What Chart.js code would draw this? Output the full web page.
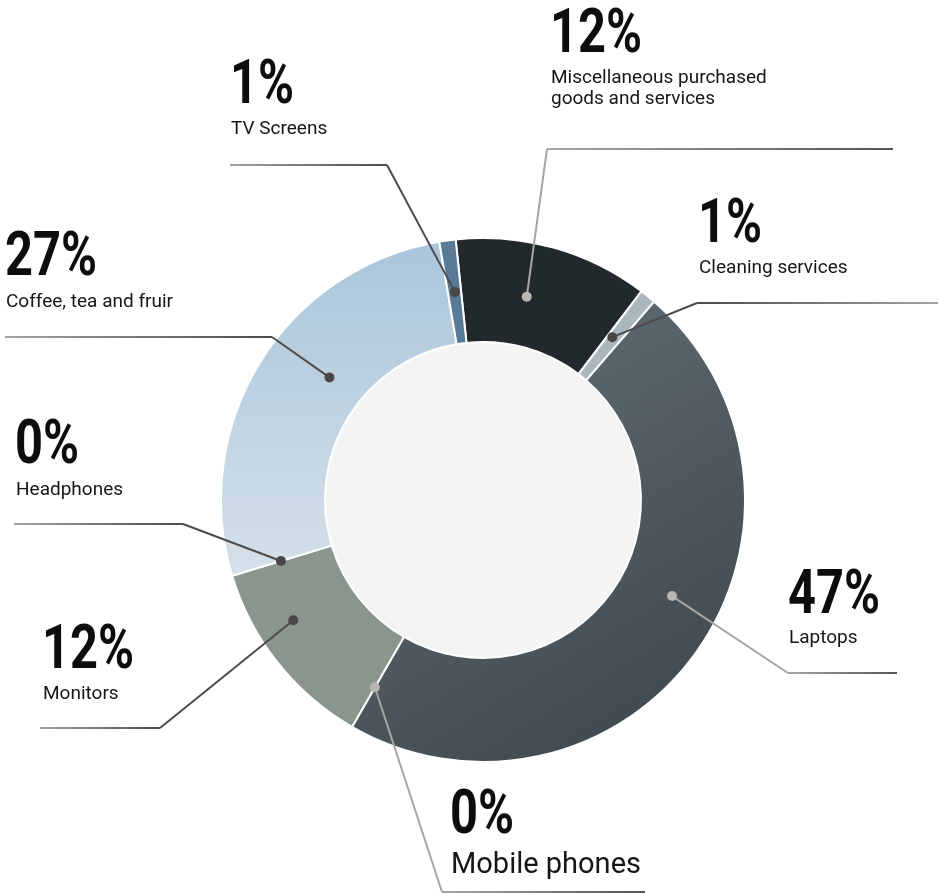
<!DOCTYPE html>
<html>
<head>
<meta charset="utf-8">
<script src="https://cdn.jsdelivr.net/npm/chart.js@4"></script>
<style>
  html, body { margin: 0; padding: 0; background: #ffffff; }
  #wrap { width: 938px; height: 894px; }
</style>
</head>
<body>
<div id="wrap"><canvas id="spendChart" width="938" height="894"></canvas></div>
<script>
// categories run clockwise starting just left of 12 o'clock
const categories = [
    ["Miscellaneous purchased", "goods and services"],
    "Cleaning services",
    "Laptops",
    "Mobile phones",
    "Monitors",
    "Headphones",
    "Coffee, tea and fruir",
    "TV Screens",
];
const shares = [12, 1, 47, 0, 12, 0, 27, 1];

const ctx = document.getElementById("spendChart").getContext("2d");

// gradients for the two big slices
const laptopFill = ctx.createLinearGradient(480, 300, 740, 730);
laptopFill.addColorStop(0, "#606d74");
laptopFill.addColorStop(1, "#3d474c");

const coffeeFill = ctx.createLinearGradient(0, 240, 0, 575);
coffeeFill.addColorStop(0, "#a9c5db");
coffeeFill.addColorStop(1, "#d4e0e9");

const sliceColors = ["#22292d", "#abb7bf", laptopFill, "#4d5a60", "#8a968b", "#8a968b", coffeeFill, "#587a96"];

// callout placement: text block, elbow of the leader line, end of the rule, dot spot inside the slice
const calloutLayout = [
    { textX: 550, pctY: 52,  labelY: 83,  elbow: [547, 149], endX: 893, tone: "light", t: 0.42, r: 0.48 },
    { textX: 698, pctY: 242, labelY: 273, elbow: [697, 303], endX: 938, tone: "dark",  t: 0.35, r: 0.48 },
    { textX: 788, pctY: 613, labelY: 643, elbow: [788, 673], endX: 897, tone: "light", t: 0.45, r: 0.52 },
    { textX: 450, pctY: 833, labelY: 873, elbow: [442, 892], endX: 645, tone: "light", t: 0.5,  r: 0.56, big: true },
    { textX: 42,  pctY: 668, labelY: 699, elbow: [160, 728], endX: 40,  tone: "dark",  t: 0.64, r: 0.64 },
    { textX: 15,  pctY: 463, labelY: 495, elbow: [183, 524], endX: 14,  tone: "dark",  t: 0.5,  r: 0.51 },
    { textX: 5,   pctY: 275, labelY: 307, elbow: [272, 337], endX: 5,   tone: "dark",  t: 0.57, r: 0.37 },
    { textX: 230, pctY: 103, labelY: 134, elbow: [387, 165], endX: 230, tone: "dark",  t: 0.53, r: 0.5 },
];

const tones = {
    light: { dot: "#b9b5ae", near: "#a9a6a1", far: "#555555" },
    dark:  { dot: "#4b4646", near: "#4f4b4b", far: "#a3a3a3" },
};

const innerDisc = {
    id: "innerDisc",
    beforeDatasetsDraw(chart) {
        const arc = chart.getDatasetMeta(0).data[0];
        const { x, y, innerRadius } = arc.getProps(["x", "y", "innerRadius"], true);
        const c = chart.ctx;
        c.save();
        c.fillStyle = "#f3f5f3";
        c.beginPath();
        c.arc(x, y, innerRadius, 0, Math.PI * 2);
        c.fill();
        c.restore();
    },
};

const callouts = {
    id: "callouts",
    afterDatasetsDraw(chart) {
        const c = chart.ctx;
        const arcs = chart.getDatasetMeta(0).data;
        const values = chart.data.datasets[0].data;

        arcs.forEach((arc, i) => {
            const lay = calloutLayout[i];
            const tone = tones[lay.tone];
            const p = arc.getProps(["x", "y", "startAngle", "endAngle", "innerRadius", "outerRadius"], true);
            const a = p.startAngle + lay.t * (p.endAngle - p.startAngle);
            const rr = p.innerRadius + lay.r * (p.outerRadius - p.innerRadius);
            const dx = p.x + Math.cos(a) * rr;
            const dy = p.y + Math.sin(a) * rr;
            const [ex, ey] = lay.elbow;

            c.save();
            c.lineWidth = 2;
            c.lineCap = "butt";

            // diagonal leg
            c.strokeStyle = tone.near;
            c.beginPath();
            c.moveTo(dx, dy);
            c.lineTo(ex, ey);
            c.stroke();

            // horizontal rule
            const g = c.createLinearGradient(ex, 0, lay.endX, 0);
            g.addColorStop(0, tone.near);
            g.addColorStop(1, tone.far);
            c.strokeStyle = g;
            c.beginPath();
            c.moveTo(ex, ey);
            c.lineTo(lay.endX, ey);
            c.stroke();

            // dot
            c.fillStyle = tone.dot;
            c.beginPath();
            c.arc(dx, dy, 5, 0, Math.PI * 2);
            c.fill();

            // percentage, condensed
            c.fillStyle = "#0d0d0d";
            c.textAlign = "left";
            c.textBaseline = "alphabetic";
            c.save();
            c.translate(lay.textX, lay.pctY);
            c.scale(0.8, 1);
            c.font = "bold 61px Roboto";
            c.fillText(values[i] + "%", 0, 0);
            c.restore();

            // category name
            c.fillStyle = "#161616";
            c.font = (lay.big ? 29 : 19) + "px Roboto";
            const lines = [].concat(chart.data.labels[i]);
            lines.forEach((line, k) => c.fillText(line, lay.textX + 1, lay.labelY + k * 21));
            c.restore();
        });
    },
};

const spendChart = new Chart(ctx, {
    type: "doughnut",
    data: {
        labels: categories,
        datasets: [
            {
                data: shares,
                backgroundColor: sliceColors,
                borderColor: "#ffffff",
                borderWidth: 2,
                hoverOffset: 0,
            },
        ],
    },
    options: {
        responsive: false,
        animation: false,
        rotation: -6,
        radius: 262,
        cutout: "60.3%",
        layout: {
            padding: { left: 221, right: 193, top: 238, bottom: 132 },
        },
        plugins: {
            legend: { display: false },
            tooltip: { enabled: false },
        },
    },
    plugins: [innerDisc, callouts],
});
</script>
</body>
</html>
